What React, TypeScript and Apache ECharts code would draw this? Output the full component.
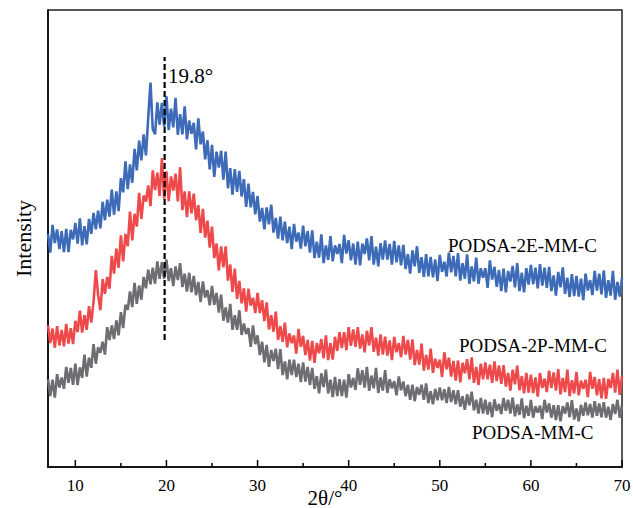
import React, { useEffect, useRef } from "react";
import * as echarts from "echarts";

// 2θ sampling of the traces (degrees)
const X_START = 7;
const X_STEP = 0.25;

const seriesNames = ["PODSA-2E-MM-C", "PODSA-2P-MM-C", "PODSA-MM-C"];
const xMajorTicks = [10, 20, 30, 40, 50, 60, 70];
const xMinorTicks = [15, 25, 35, 45, 55, 65];
const peakPosition = 19.8;
const peakLineRange = [27.8, 89.7];

// PODSA-2E-MM-C (blue), 7°..70° step 0.25°
const blueValues = [
  51.0, 46.9, 53.0, 49.0, 52.0, 47.7, 51.6, 47.0, 52.1, 47.0, 51.9, 49.8,
  53.4, 48.9, 54.4, 48.5, 52.7, 48.7, 54.3, 51.0, 55.6, 52.0, 56.1, 52.2,
  58.0, 54.0, 58.5, 54.8, 60.7, 55.2, 60.3, 56.0, 63.2, 60.1, 66.9, 60.8,
  66.2, 62.2, 69.6, 64.9, 71.4, 67.1, 72.8, 68.2, 76.4, 84.1, 73.9, 72.8,
  79.8, 74.9, 79.7, 74.5, 81.1, 73.7, 78.4, 74.3, 80.8, 72.7, 77.2, 72.8,
  78.9, 71.7, 75.8, 72.9, 75.3, 69.5, 76.3, 70.6, 73.4, 67.3, 71.5, 65.1,
  70.5, 63.5, 69.0, 65.5, 69.2, 62.9, 69.0, 61.0, 65.4, 59.6, 65.2, 60.2,
  64.8, 59.2, 63.0, 56.9, 62.0, 56.8, 60.2, 55.3, 59.3, 53.7, 56.7, 52.0,
  56.8, 53.1, 57.4, 51.3, 54.5, 50.0, 54.8, 49.6, 53.7, 49.0, 52.6, 47.7,
  53.2, 49.3, 51.3, 47.8, 52.8, 48.3, 51.6, 46.9, 51.8, 45.7, 49.3, 45.8,
  50.9, 44.6, 48.5, 45.3, 50.5, 45.0, 48.5, 46.6, 48.8, 44.6, 50.8, 46.7,
  49.6, 45.2, 48.9, 44.3, 49.3, 44.1, 48.9, 46.6, 50.0, 45.2, 50.5, 44.3,
  48.2, 43.9, 49.0, 45.4, 49.6, 45.4, 48.8, 44.3, 49.5, 44.8, 48.5, 44.1,
  48.6, 43.3, 46.6, 42.3, 47.4, 43.9, 48.3, 42.5, 45.9, 41.6, 46.6, 41.7,
  46.0, 41.5, 45.4, 40.7, 46.4, 42.7, 44.9, 41.7, 46.9, 42.6, 46.2, 41.7,
  46.8, 40.8, 44.6, 41.2, 46.5, 40.1, 43.9, 40.6, 45.8, 40.1, 43.5, 41.4,
  43.5, 39.2, 45.2, 41.0, 43.8, 39.4, 43.1, 38.5, 43.4, 38.2, 42.9, 40.6,
  44.0, 39.3, 44.6, 38.5, 42.5, 38.2, 43.5, 39.9, 44.2, 40.0, 43.6, 39.1,
  44.4, 39.7, 43.6, 39.2, 43.8, 38.5, 41.9, 37.5, 42.7, 39.3, 43.7, 37.9,
  41.4, 37.2, 42.2, 37.4, 41.8, 37.3, 41.2, 36.5, 42.3, 38.6, 40.9, 37.6,
  42.9, 38.6, 42.3, 37.8, 43.0, 37.0, 40.9, 37.5, 42.9, 36.6, 40.5, 37.3,
  41.4,
];

// PODSA-2P-MM-C (red)
const redValues = [
  31.0, 27.1, 30.3, 26.1, 30.8, 26.6, 30.0, 26.4, 31.3, 27.0, 30.4, 26.9,
  32.0, 29.5, 34.2, 29.4, 33.2, 30.0, 35.2, 31.6, 36.2, 43.1, 37.6, 34.3,
  41.1, 37.9, 41.6, 39.0, 46.2, 42.3, 47.8, 43.6, 50.7, 45.0, 51.0, 48.3,
  55.9, 49.6, 55.4, 52.6, 60.0, 54.3, 59.4, 58.1, 61.6, 57.1, 64.9, 60.6,
  64.4, 59.3, 67.6, 58.7, 64.7, 58.2, 63.6, 60.5, 64.2, 58.1, 65.6, 56.2,
  60.3, 54.7, 60.3, 55.5, 59.8, 54.0, 57.3, 51.2, 56.5, 50.2, 53.9, 48.0,
  52.6, 45.7, 48.9, 43.0, 48.3, 43.7, 48.3, 40.8, 44.3, 38.3, 43.4, 36.8,
  40.7, 35.8, 39.1, 34.0, 39.0, 35.3, 37.0, 33.7, 38.1, 33.7, 36.5, 31.9,
  36.0, 30.1, 33.2, 29.6, 34.0, 27.8, 30.8, 27.4, 31.6, 26.2, 29.2, 27.1,
  28.8, 24.8, 30.2, 26.3, 28.7, 24.5, 27.8, 23.3, 27.6, 22.8, 27.1, 24.9,
  28.0, 23.8, 28.8, 23.4, 27.1, 23.5, 28.5, 25.4, 29.5, 26.0, 29.5, 25.6,
  30.6, 26.5, 30.1, 26.3, 30.6, 25.9, 29.0, 25.1, 29.8, 26.6, 30.6, 25.2,
  28.3, 24.4, 29.0, 24.6, 28.5, 24.4, 27.7, 23.4, 28.5, 25.1, 27.1, 24.0,
  28.7, 24.6, 27.8, 23.5, 27.9, 22.3, 25.6, 22.4, 27.0, 21.1, 24.5, 21.3,
  25.9, 20.6, 23.7, 21.7, 23.5, 19.7, 25.1, 21.4, 23.9, 19.8, 23.2, 18.9,
  23.3, 18.5, 22.8, 20.5, 23.6, 19.2, 24.0, 18.4, 21.9, 17.9, 22.6, 19.2,
  22.9, 19.2, 22.4, 18.4, 23.1, 18.8, 22.2, 18.2, 22.3, 17.6, 20.6, 16.7,
  21.3, 18.1, 22.2, 16.8, 19.9, 16.1, 20.6, 16.3, 20.2, 16.2, 19.6, 15.4,
  20.6, 17.3, 19.3, 16.4, 21.1, 17.3, 20.7, 16.7, 21.4, 15.9, 19.5, 16.4,
  21.3, 15.5, 19.0, 16.1, 20.8, 15.7, 18.9, 17.1, 19.1, 15.3, 20.8, 17.1,
  19.7, 15.7, 19.2, 15.0, 19.5, 14.9, 19.3, 17.3, 20.6, 16.3, 21.3, 15.8,
  19.9,
];

// PODSA-MM-C (grey)
const greyValues = [
  19.2, 15.5, 19.1, 15.2, 20.3, 17.4, 19.6, 17.1, 21.9, 18.4, 21.7, 18.0,
  22.6, 17.9, 21.8, 19.5, 24.6, 19.8, 23.9, 21.7, 26.9, 22.6, 26.2, 25.0,
  27.4, 24.6, 30.6, 27.8, 31.0, 28.0, 32.1, 28.8, 33.9, 30.4, 35.5, 34.4,
  38.4, 35.0, 40.3, 35.7, 39.7, 36.6, 41.6, 39.1, 43.2, 40.0, 43.6, 40.1,
  45.0, 41.2, 44.8, 41.2, 45.4, 40.7, 43.5, 39.6, 43.9, 40.9, 44.6, 39.4,
  42.3, 38.4, 42.5, 38.2, 41.8, 37.6, 40.5, 36.1, 40.6, 37.1, 38.7, 35.4,
  39.6, 35.5, 38.1, 33.8, 37.7, 32.0, 34.9, 31.6, 35.7, 30.0, 33.2, 30.0,
  34.3, 28.9, 31.4, 29.1, 30.4, 26.3, 31.0, 26.9, 28.8, 24.5, 27.4, 22.9,
  26.7, 21.9, 25.6, 23.2, 25.9, 21.4, 25.8, 20.1, 23.1, 19.2, 23.5, 20.1,
  23.5, 19.7, 22.6, 18.6, 22.9, 18.7, 21.9, 17.9, 21.7, 17.1, 19.9, 16.1,
  20.5, 17.5, 21.3, 16.1, 19.1, 15.3, 19.7, 15.5, 19.2, 15.5, 19.1, 15.2,
  20.3, 17.4, 19.5, 16.9, 21.6, 18.0, 21.2, 17.4, 21.9, 16.7, 20.0, 17.2,
  21.7, 16.2, 19.6, 16.7, 21.2, 16.2, 19.2, 17.2, 18.8, 15.7, 19.8, 16.8,
  18.7, 15.5, 18.0, 14.7, 18.0, 14.4, 17.5, 15.8, 18.0, 14.7, 18.3, 14.0,
  16.6, 13.7, 17.1, 14.6, 17.4, 14.6, 17.0, 14.0, 17.5, 14.2, 16.8, 13.7,
  16.8, 13.2, 15.5, 12.5, 15.9, 13.5, 16.5, 12.4, 14.7, 11.7, 15.1, 11.7,
  14.7, 11.5, 14.2, 10.9, 14.8, 12.3, 13.8, 11.6, 15.1, 12.3, 14.7, 11.7,
  15.2, 11.1, 13.7, 11.4, 15.0, 10.7, 13.4, 11.2, 14.7, 10.8, 13.3, 11.9,
  13.4, 10.5, 14.7, 11.9, 13.9, 10.8, 13.5, 10.3, 13.5, 10.0, 13.3, 11.7,
  14.1, 10.9, 14.6, 10.4, 12.8, 10.0, 13.6, 11.2, 14.1, 11.3, 13.8, 10.8,
  14.4, 11.2, 13.9, 10.9, 14.2, 10.8, 13.2, 10.3, 13.8, 11.6, 14.7, 10.8,
  13.5,
];

const FONT = "Liberation Serif";

const toPairs = (vals: number[]) =>
  vals.map((v, i) => [X_START + i * X_STEP, v]);

const tickSeries = (ticks: number[], len: number) => ({
  type: "custom",
  silent: true,
  z: 8,
  clip: false,
  data: ticks.map((t) => [t, 0]),
  renderItem: (_params: any, api: any) => {
    const p = api.coord([api.value(0), 0]);
    return {
      type: "line",
      shape: { x1: p[0], y1: p[1], x2: p[0], y2: p[1] - len },
      style: { stroke: "#000", lineWidth: 1.5 },
    };
  },
});

export default function App() {
  const ref = useRef<HTMLDivElement>(null);

  useEffect(() => {
    if (!ref.current) return;
    const chart = echarts.init(ref.current, null, { renderer: "svg" });
    const colors = ["#3d6bb8", "#ef4a4b", "#6d6e71"];
    const valueSets = [blueValues, redValues, greyValues];

    const textEl = (text: string, x: number, y: number, size: number) => ({
      type: "text",
      x,
      y,
      z: 20,
      style: {
        text,
        fontFamily: FONT,
        fontSize: size,
        fill: "#000",
        align: "left",
        verticalAlign: "middle",
      },
    });

    chart.setOption({
      animation: false,
      backgroundColor: "#ffffff",
      grid: {
        left: 48,
        right: 11,
        top: 10,
        bottom: 41,
        containLabel: false,
        outerBoundsMode: "none",
        show: true,
        borderColor: "#222",
        borderWidth: 1.5,
      },
      xAxis: {
        type: "value",
        min: 7,
        max: 70,
        name: "2θ/°",
        nameLocation: "middle",
        nameGap: 20,
        nameMoveOverlap: false,
        nameTextStyle: {
          fontFamily: FONT,
          fontSize: 21,
          color: "#000",
          padding: [0, 20, 0, 0],
        },
        axisLine: { show: true, lineStyle: { color: "#000", width: 1.5 } },
        axisTick: { show: false },
        axisLabel: {
          customValues: xMajorTicks,
          margin: 10,
          fontFamily: FONT,
          fontSize: 17,
          color: "#000",
        },
        splitLine: { show: false },
      },
      yAxis: {
        type: "value",
        min: 0,
        max: 100,
        name: "Intensity",
        nameLocation: "middle",
        nameGap: 14,
        nameRotate: 90,
        nameTextStyle: { fontFamily: FONT, fontSize: 22, color: "#000" },
        axisLine: { show: true, lineStyle: { color: "#000", width: 1.5 } },
        axisTick: { show: false },
        axisLabel: { show: false },
        splitLine: { show: false },
      },
      series: [
        ...valueSets.map((vals, i) => ({
          name: seriesNames[i],
          type: "line",
          data: toPairs(vals),
          symbol: "none",
          showSymbol: false,
          lineStyle: { color: colors[i], width: 2.6 },
          itemStyle: { color: colors[i] },
          z: 2 + i,
        })),
        {
          name: "peak",
          type: "line",
          data: [
            [peakPosition, peakLineRange[0]],
            [peakPosition, peakLineRange[1]],
          ],
          symbol: "none",
          lineStyle: { color: "#000", width: 2.2, type: [6, 3] },
          z: 10,
        },
        tickSeries(xMajorTicks, 7),
        tickSeries(xMinorTicks, 4),
      ],
      graphic: [
        textEl(peakPosition.toFixed(1) + "°", 168, 76, 21),
        textEl(seriesNames[0], 448, 245, 19),
        textEl(seriesNames[1], 459, 345, 19),
        textEl(seriesNames[2], 472, 432, 19),
      ],
    });

    return () => chart.dispose();
  }, []);

  return (
    <div
      ref={ref}
      style={{ position: "fixed", left: 0, top: 0, width: 633, height: 508 }}
    />
  );
}
